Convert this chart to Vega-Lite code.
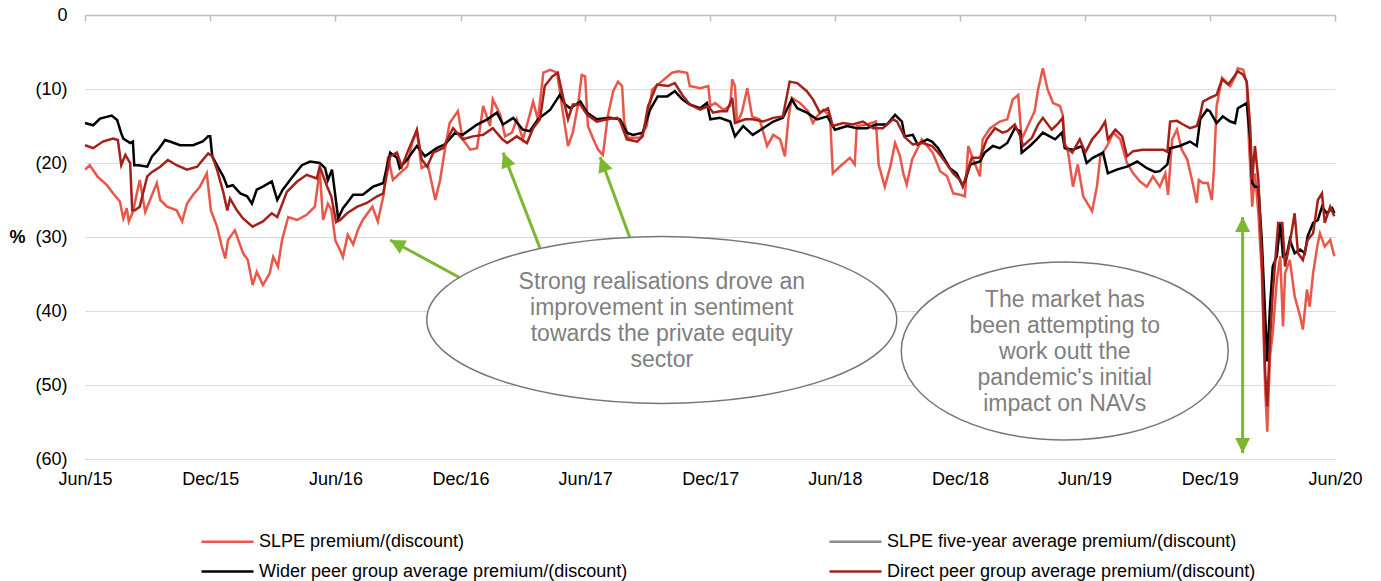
{
  "$schema": "https://vega.github.io/schema/vega-lite/v6.json",
  "width": 1250,
  "height": 444,
  "autosize": {"type": "none"},
  "padding": {"left": 85, "top": 15, "right": 46, "bottom": 122},
  "background": "white",
  "config": {"view": {"stroke": null}, "font": "Liberation Sans"},
  "datasets": {
    "slpe": [
      {"d":"2015-06-01","v":-20.9},{"d":"2015-06-08","v":-20.3},{"d":"2015-06-19","v":-21.8},{"d":"2015-07-03","v":-23.0},{"d":"2015-07-12","v":-24.1},{"d":"2015-07-22","v":-25.2},{"d":"2015-07-27","v":-27.5},{"d":"2015-08-01","v":-26.1},{"d":"2015-08-04","v":-27.9},{"d":"2015-08-10","v":-26.6},{"d":"2015-08-20","v":-22.3},{"d":"2015-08-28","v":-26.6},{"d":"2015-09-04","v":-25.0},{"d":"2015-09-14","v":-22.7},{"d":"2015-09-19","v":-25.0},{"d":"2015-09-29","v":-25.9},{"d":"2015-10-13","v":-26.4},{"d":"2015-10-21","v":-27.9},{"d":"2015-10-28","v":-25.5},{"d":"2015-11-06","v":-24.3},{"d":"2015-11-16","v":-23.2},{"d":"2015-11-26","v":-21.4},{"d":"2015-12-02","v":-26.4},{"d":"2015-12-11","v":-28.6},{"d":"2015-12-18","v":-31.3},{"d":"2015-12-23","v":-32.9},{"d":"2015-12-27","v":-30.4},{"d":"2016-01-06","v":-29.1},{"d":"2016-01-18","v":-32.2},{"d":"2016-01-25","v":-33.1},{"d":"2016-02-01","v":-36.5},{"d":"2016-02-07","v":-34.7},{"d":"2016-02-16","v":-36.5},{"d":"2016-02-26","v":-34.9},{"d":"2016-03-02","v":-32.7},{"d":"2016-03-09","v":-34.0},{"d":"2016-03-15","v":-30.4},{"d":"2016-03-24","v":-27.3},{"d":"2016-04-06","v":-27.7},{"d":"2016-04-20","v":-27.0},{"d":"2016-05-02","v":-25.9},{"d":"2016-05-09","v":-20.9},{"d":"2016-05-14","v":-27.7},{"d":"2016-05-21","v":-25.5},{"d":"2016-05-26","v":-26.3},{"d":"2016-06-01","v":-30.5},{"d":"2016-06-08","v":-31.8},{"d":"2016-06-12","v":-32.7},{"d":"2016-06-19","v":-29.7},{"d":"2016-06-27","v":-31.0},{"d":"2016-07-04","v":-29.0},{"d":"2016-07-11","v":-27.7},{"d":"2016-07-25","v":-25.9},{"d":"2016-08-02","v":-27.9},{"d":"2016-08-10","v":-24.5},{"d":"2016-08-17","v":-19.1},{"d":"2016-08-24","v":-22.3},{"d":"2016-09-03","v":-21.4},{"d":"2016-09-14","v":-20.5},{"d":"2016-09-21","v":-17.3},{"d":"2016-09-28","v":-15.7},{"d":"2016-10-05","v":-20.7},{"d":"2016-10-14","v":-20.2},{"d":"2016-10-25","v":-25.0},{"d":"2016-11-01","v":-22.3},{"d":"2016-11-08","v":-18.2},{"d":"2016-11-15","v":-14.6},{"d":"2016-11-27","v":-13.0},{"d":"2016-12-04","v":-16.8},{"d":"2016-12-15","v":-18.2},{"d":"2016-12-25","v":-18.0},{"d":"2017-01-03","v":-12.3},{"d":"2017-01-13","v":-15.0},{"d":"2017-01-17","v":-11.4},{"d":"2017-01-28","v":-13.5},{"d":"2017-02-04","v":-16.4},{"d":"2017-02-14","v":-15.9},{"d":"2017-02-21","v":-14.1},{"d":"2017-03-02","v":-16.8},{"d":"2017-03-12","v":-13.5},{"d":"2017-03-17","v":-11.7},{"d":"2017-03-24","v":-14.1},{"d":"2017-04-01","v":-7.8},{"d":"2017-04-11","v":-7.4},{"d":"2017-04-21","v":-7.8},{"d":"2017-04-30","v":-13.5},{"d":"2017-05-07","v":-17.7},{"d":"2017-05-14","v":-15.9},{"d":"2017-05-22","v":-11.9},{"d":"2017-05-27","v":-8.1},{"d":"2017-06-01","v":-8.3},{"d":"2017-06-05","v":-15.0},{"d":"2017-06-13","v":-16.8},{"d":"2017-06-20","v":-18.2},{"d":"2017-06-27","v":-18.9},{"d":"2017-07-04","v":-13.7},{"d":"2017-07-12","v":-10.3},{"d":"2017-07-19","v":-9.0},{"d":"2017-07-25","v":-9.6},{"d":"2017-07-28","v":-14.4},{"d":"2017-08-03","v":-16.6},{"d":"2017-08-20","v":-16.6},{"d":"2017-08-30","v":-15.0},{"d":"2017-09-07","v":-10.1},{"d":"2017-09-18","v":-9.2},{"d":"2017-10-06","v":-7.8},{"d":"2017-10-15","v":-7.6},{"d":"2017-10-28","v":-7.8},{"d":"2017-11-01","v":-9.6},{"d":"2017-11-16","v":-9.9},{"d":"2017-11-28","v":-9.6},{"d":"2017-12-01","v":-12.3},{"d":"2017-12-08","v":-11.9},{"d":"2017-12-20","v":-12.8},{"d":"2017-12-30","v":-12.3},{"d":"2018-01-02","v":-8.7},{"d":"2018-01-06","v":-9.6},{"d":"2018-01-09","v":-14.6},{"d":"2018-01-16","v":-13.2},{"d":"2018-01-24","v":-9.9},{"d":"2018-01-31","v":-13.7},{"d":"2018-02-11","v":-14.1},{"d":"2018-02-22","v":-17.7},{"d":"2018-03-03","v":-16.2},{"d":"2018-03-13","v":-16.8},{"d":"2018-03-20","v":-19.1},{"d":"2018-03-25","v":-14.1},{"d":"2018-03-30","v":-11.2},{"d":"2018-04-11","v":-11.9},{"d":"2018-04-23","v":-13.0},{"d":"2018-04-30","v":-14.6},{"d":"2018-05-06","v":-13.7},{"d":"2018-05-15","v":-12.8},{"d":"2018-05-25","v":-13.7},{"d":"2018-05-29","v":-21.4},{"d":"2018-06-08","v":-20.5},{"d":"2018-06-23","v":-19.3},{"d":"2018-06-30","v":-20.2},{"d":"2018-07-03","v":-15.0},{"d":"2018-07-18","v":-14.8},{"d":"2018-07-31","v":-14.4},{"d":"2018-08-04","v":-20.2},{"d":"2018-08-13","v":-23.2},{"d":"2018-08-21","v":-20.5},{"d":"2018-08-28","v":-17.3},{"d":"2018-09-04","v":-19.0},{"d":"2018-09-09","v":-21.4},{"d":"2018-09-14","v":-22.9},{"d":"2018-09-22","v":-19.5},{"d":"2018-09-29","v":-18.2},{"d":"2018-10-06","v":-16.8},{"d":"2018-10-14","v":-17.7},{"d":"2018-10-22","v":-18.6},{"d":"2018-11-02","v":-21.1},{"d":"2018-11-12","v":-21.8},{"d":"2018-11-21","v":-24.1},{"d":"2018-12-01","v":-24.3},{"d":"2018-12-08","v":-24.5},{"d":"2018-12-13","v":-17.7},{"d":"2018-12-20","v":-19.5},{"d":"2018-12-30","v":-21.8},{"d":"2019-01-03","v":-16.8},{"d":"2019-01-14","v":-15.3},{"d":"2019-01-28","v":-14.4},{"d":"2019-02-08","v":-14.1},{"d":"2019-02-16","v":-11.4},{"d":"2019-02-24","v":-10.8},{"d":"2019-03-01","v":-16.8},{"d":"2019-03-10","v":-15.0},{"d":"2019-03-20","v":-13.0},{"d":"2019-03-25","v":-10.1},{"d":"2019-04-01","v":-7.2},{"d":"2019-04-08","v":-10.1},{"d":"2019-04-16","v":-11.9},{"d":"2019-04-26","v":-12.3},{"d":"2019-04-30","v":-13.5},{"d":"2019-05-03","v":-17.3},{"d":"2019-05-08","v":-18.6},{"d":"2019-05-15","v":-23.2},{"d":"2019-05-22","v":-20.2},{"d":"2019-05-30","v":-24.5},{"d":"2019-06-12","v":-26.5},{"d":"2019-06-19","v":-23.2},{"d":"2019-06-24","v":-19.1},{"d":"2019-07-04","v":-17.7},{"d":"2019-07-13","v":-15.9},{"d":"2019-07-23","v":-16.8},{"d":"2019-08-02","v":-20.0},{"d":"2019-08-11","v":-21.4},{"d":"2019-08-21","v":-22.5},{"d":"2019-08-31","v":-23.2},{"d":"2019-09-09","v":-21.8},{"d":"2019-09-19","v":-23.2},{"d":"2019-09-27","v":-21.4},{"d":"2019-10-01","v":-24.3},{"d":"2019-10-07","v":-16.8},{"d":"2019-10-14","v":-15.5},{"d":"2019-10-21","v":-18.2},{"d":"2019-10-29","v":-19.5},{"d":"2019-11-05","v":-22.3},{"d":"2019-11-12","v":-25.4},{"d":"2019-11-15","v":-22.3},{"d":"2019-11-21","v":-22.7},{"d":"2019-11-28","v":-22.7},{"d":"2019-12-04","v":-25.0},{"d":"2019-12-07","v":-20.9},{"d":"2019-12-11","v":-12.3},{"d":"2019-12-19","v":-8.5},{"d":"2019-12-31","v":-9.6},{"d":"2020-01-07","v":-8.3},{"d":"2020-01-11","v":-7.2},{"d":"2020-01-19","v":-7.4},{"d":"2020-01-24","v":-9.2},{"d":"2020-01-27","v":-16.8},{"d":"2020-02-01","v":-25.9},{"d":"2020-02-05","v":-21.4},{"d":"2020-02-10","v":-26.8},{"d":"2020-02-15","v":-34.9},{"d":"2020-02-20","v":-50.7},{"d":"2020-02-23","v":-56.3},{"d":"2020-02-27","v":-46.1},{"d":"2020-03-02","v":-43.0},{"d":"2020-03-08","v":-35.8},{"d":"2020-03-13","v":-32.6},{"d":"2020-03-17","v":-42.1},{"d":"2020-03-20","v":-34.9},{"d":"2020-03-27","v":-33.1},{"d":"2020-04-03","v":-38.0},{"d":"2020-04-11","v":-40.7},{"d":"2020-04-15","v":-42.5},{"d":"2020-04-21","v":-37.1},{"d":"2020-04-25","v":-39.4},{"d":"2020-04-30","v":-34.9},{"d":"2020-05-06","v":-31.3},{"d":"2020-05-10","v":-29.5},{"d":"2020-05-17","v":-31.3},{"d":"2020-05-25","v":-30.4},{"d":"2020-05-31","v":-32.6}
    ],
    "wider": [
      {"d":"2015-06-01","v":-14.6},{"d":"2015-06-13","v":-14.9},{"d":"2015-06-23","v":-14.0},{"d":"2015-07-10","v":-13.6},{"d":"2015-07-18","v":-14.2},{"d":"2015-07-24","v":-16.0},{"d":"2015-07-27","v":-16.7},{"d":"2015-08-06","v":-17.3},{"d":"2015-08-10","v":-17.1},{"d":"2015-08-12","v":-20.3},{"d":"2015-08-18","v":-20.3},{"d":"2015-08-31","v":-20.5},{"d":"2015-09-07","v":-19.1},{"d":"2015-09-16","v":-18.2},{"d":"2015-09-26","v":-16.9},{"d":"2015-10-03","v":-17.1},{"d":"2015-10-18","v":-17.6},{"d":"2015-11-06","v":-17.6},{"d":"2015-11-20","v":-17.1},{"d":"2015-11-28","v":-16.4},{"d":"2015-12-01","v":-16.4},{"d":"2015-12-04","v":-19.1},{"d":"2015-12-11","v":-20.3},{"d":"2015-12-20","v":-21.8},{"d":"2015-12-26","v":-23.2},{"d":"2016-01-03","v":-23.0},{"d":"2016-01-14","v":-24.1},{"d":"2016-01-24","v":-24.5},{"d":"2016-01-31","v":-25.5},{"d":"2016-02-07","v":-23.6},{"d":"2016-02-16","v":-23.2},{"d":"2016-02-29","v":-22.5},{"d":"2016-03-08","v":-25.0},{"d":"2016-03-16","v":-23.6},{"d":"2016-03-31","v":-21.8},{"d":"2016-04-13","v":-20.3},{"d":"2016-04-25","v":-19.8},{"d":"2016-05-09","v":-20.0},{"d":"2016-05-17","v":-20.7},{"d":"2016-05-21","v":-22.3},{"d":"2016-05-27","v":-20.9},{"d":"2016-06-01","v":-24.5},{"d":"2016-06-05","v":-27.5},{"d":"2016-06-12","v":-26.1},{"d":"2016-06-18","v":-25.4},{"d":"2016-06-27","v":-24.3},{"d":"2016-07-11","v":-24.3},{"d":"2016-07-26","v":-23.2},{"d":"2016-08-01","v":-23.0},{"d":"2016-08-10","v":-22.7},{"d":"2016-08-20","v":-18.6},{"d":"2016-08-30","v":-19.3},{"d":"2016-09-03","v":-20.7},{"d":"2016-09-14","v":-19.5},{"d":"2016-09-28","v":-17.7},{"d":"2016-10-10","v":-19.1},{"d":"2016-10-27","v":-18.0},{"d":"2016-11-08","v":-17.5},{"d":"2016-11-23","v":-15.9},{"d":"2016-12-04","v":-16.2},{"d":"2016-12-25","v":-14.8},{"d":"2017-01-09","v":-14.1},{"d":"2017-01-23","v":-13.2},{"d":"2017-02-01","v":-14.8},{"d":"2017-02-16","v":-13.9},{"d":"2017-03-02","v":-15.5},{"d":"2017-03-12","v":-15.7},{"d":"2017-03-24","v":-14.1},{"d":"2017-04-11","v":-12.8},{"d":"2017-04-25","v":-10.8},{"d":"2017-05-03","v":-12.1},{"d":"2017-05-10","v":-12.6},{"d":"2017-05-25","v":-11.7},{"d":"2017-06-04","v":-13.2},{"d":"2017-06-18","v":-14.1},{"d":"2017-07-07","v":-13.9},{"d":"2017-07-22","v":-14.1},{"d":"2017-08-01","v":-15.9},{"d":"2017-08-10","v":-16.2},{"d":"2017-08-24","v":-15.9},{"d":"2017-09-04","v":-12.8},{"d":"2017-09-15","v":-11.0},{"d":"2017-09-29","v":-11.0},{"d":"2017-10-10","v":-10.3},{"d":"2017-10-21","v":-11.4},{"d":"2017-11-01","v":-12.1},{"d":"2017-11-16","v":-12.6},{"d":"2017-11-26","v":-11.9},{"d":"2017-12-01","v":-14.1},{"d":"2017-12-15","v":-13.9},{"d":"2017-12-30","v":-14.4},{"d":"2018-01-06","v":-16.4},{"d":"2018-01-18","v":-15.0},{"d":"2018-02-01","v":-16.2},{"d":"2018-02-16","v":-15.3},{"d":"2018-03-03","v":-14.4},{"d":"2018-03-17","v":-13.9},{"d":"2018-03-30","v":-11.4},{"d":"2018-04-07","v":-12.6},{"d":"2018-04-21","v":-13.2},{"d":"2018-05-06","v":-14.1},{"d":"2018-05-21","v":-13.7},{"d":"2018-06-01","v":-15.5},{"d":"2018-06-19","v":-15.0},{"d":"2018-07-03","v":-15.3},{"d":"2018-07-18","v":-15.3},{"d":"2018-07-31","v":-14.8},{"d":"2018-08-16","v":-14.8},{"d":"2018-08-28","v":-13.5},{"d":"2018-09-07","v":-14.4},{"d":"2018-09-11","v":-16.4},{"d":"2018-09-23","v":-16.2},{"d":"2018-09-30","v":-17.5},{"d":"2018-10-14","v":-16.8},{"d":"2018-10-21","v":-17.1},{"d":"2018-10-30","v":-18.0},{"d":"2018-11-06","v":-19.1},{"d":"2018-11-16","v":-20.7},{"d":"2018-11-26","v":-21.4},{"d":"2018-12-04","v":-22.9},{"d":"2018-12-08","v":-22.5},{"d":"2018-12-16","v":-20.2},{"d":"2018-12-30","v":-19.8},{"d":"2019-01-06","v":-18.6},{"d":"2019-01-18","v":-17.7},{"d":"2019-01-28","v":-18.0},{"d":"2019-02-08","v":-17.3},{"d":"2019-02-19","v":-15.3},{"d":"2019-02-27","v":-15.7},{"d":"2019-03-01","v":-18.6},{"d":"2019-03-13","v":-17.7},{"d":"2019-03-23","v":-16.8},{"d":"2019-04-01","v":-15.9},{"d":"2019-04-11","v":-16.4},{"d":"2019-04-19","v":-16.8},{"d":"2019-04-29","v":-15.9},{"d":"2019-05-03","v":-18.0},{"d":"2019-05-15","v":-18.2},{"d":"2019-05-28","v":-17.7},{"d":"2019-06-04","v":-20.0},{"d":"2019-06-13","v":-19.3},{"d":"2019-06-28","v":-18.6},{"d":"2019-07-05","v":-21.4},{"d":"2019-07-18","v":-20.9},{"d":"2019-08-02","v":-20.5},{"d":"2019-08-17","v":-19.8},{"d":"2019-08-31","v":-20.7},{"d":"2019-09-12","v":-21.2},{"d":"2019-09-19","v":-21.1},{"d":"2019-09-30","v":-20.2},{"d":"2019-10-04","v":-18.0},{"d":"2019-10-18","v":-17.7},{"d":"2019-11-02","v":-17.1},{"d":"2019-11-12","v":-17.7},{"d":"2019-11-17","v":-14.1},{"d":"2019-11-27","v":-12.8},{"d":"2019-12-01","v":-13.0},{"d":"2019-12-11","v":-14.6},{"d":"2019-12-20","v":-13.7},{"d":"2019-12-31","v":-14.4},{"d":"2020-01-07","v":-14.6},{"d":"2020-01-11","v":-12.6},{"d":"2020-01-24","v":-11.9},{"d":"2020-01-29","v":-16.8},{"d":"2020-02-01","v":-22.7},{"d":"2020-02-05","v":-23.2},{"d":"2020-02-10","v":-23.2},{"d":"2020-02-15","v":-30.4},{"d":"2020-02-20","v":-40.7},{"d":"2020-02-23","v":-46.8},{"d":"2020-02-27","v":-39.4},{"d":"2020-03-02","v":-34.0},{"d":"2020-03-08","v":-32.6},{"d":"2020-03-13","v":-28.1},{"d":"2020-03-17","v":-32.6},{"d":"2020-03-23","v":-32.2},{"d":"2020-03-27","v":-30.4},{"d":"2020-04-03","v":-32.2},{"d":"2020-04-11","v":-31.7},{"d":"2020-04-18","v":-32.2},{"d":"2020-04-22","v":-29.9},{"d":"2020-04-30","v":-28.1},{"d":"2020-05-07","v":-27.7},{"d":"2020-05-13","v":-25.9},{"d":"2020-05-20","v":-26.8},{"d":"2020-05-28","v":-26.1},{"d":"2020-05-31","v":-26.8}
    ],
    "direct": [
      {"d":"2015-06-01","v":-17.6},{"d":"2015-06-13","v":-18.0},{"d":"2015-06-27","v":-17.1},{"d":"2015-07-12","v":-16.7},{"d":"2015-07-19","v":-16.9},{"d":"2015-07-24","v":-20.3},{"d":"2015-07-30","v":-18.9},{"d":"2015-08-06","v":-20.0},{"d":"2015-08-09","v":-26.4},{"d":"2015-08-13","v":-26.4},{"d":"2015-08-20","v":-25.9},{"d":"2015-08-31","v":-21.8},{"d":"2015-09-07","v":-21.2},{"d":"2015-09-19","v":-20.5},{"d":"2015-09-30","v":-19.6},{"d":"2015-10-13","v":-20.3},{"d":"2015-10-28","v":-20.9},{"d":"2015-11-12","v":-20.5},{"d":"2015-11-20","v":-19.6},{"d":"2015-11-28","v":-18.7},{"d":"2015-12-04","v":-19.1},{"d":"2015-12-11","v":-20.9},{"d":"2015-12-20","v":-23.9},{"d":"2015-12-26","v":-26.4},{"d":"2015-12-30","v":-24.8},{"d":"2016-01-09","v":-26.4},{"d":"2016-01-18","v":-27.5},{"d":"2016-02-01","v":-28.6},{"d":"2016-02-16","v":-27.9},{"d":"2016-02-29","v":-26.8},{"d":"2016-03-08","v":-27.3},{"d":"2016-03-22","v":-23.9},{"d":"2016-04-06","v":-22.5},{"d":"2016-04-20","v":-21.6},{"d":"2016-05-05","v":-22.1},{"d":"2016-05-09","v":-20.5},{"d":"2016-05-12","v":-21.2},{"d":"2016-05-20","v":-23.2},{"d":"2016-05-26","v":-24.5},{"d":"2016-06-02","v":-28.0},{"d":"2016-06-08","v":-27.7},{"d":"2016-06-18","v":-26.8},{"d":"2016-07-03","v":-25.9},{"d":"2016-07-17","v":-25.4},{"d":"2016-08-01","v":-24.5},{"d":"2016-08-10","v":-24.1},{"d":"2016-08-20","v":-19.1},{"d":"2016-08-30","v":-18.6},{"d":"2016-09-06","v":-20.5},{"d":"2016-09-15","v":-18.4},{"d":"2016-09-25","v":-16.2},{"d":"2016-09-28","v":-15.5},{"d":"2016-10-05","v":-19.5},{"d":"2016-10-13","v":-20.5},{"d":"2016-10-22","v":-18.6},{"d":"2016-11-05","v":-18.0},{"d":"2016-11-20","v":-15.3},{"d":"2016-12-04","v":-16.8},{"d":"2016-12-19","v":-16.4},{"d":"2017-01-03","v":-16.2},{"d":"2017-01-17","v":-15.3},{"d":"2017-01-31","v":-16.8},{"d":"2017-02-07","v":-17.3},{"d":"2017-02-21","v":-16.4},{"d":"2017-03-08","v":-17.3},{"d":"2017-03-17","v":-15.3},{"d":"2017-03-27","v":-14.1},{"d":"2017-04-03","v":-9.6},{"d":"2017-04-14","v":-8.3},{"d":"2017-04-22","v":-7.8},{"d":"2017-04-30","v":-11.2},{"d":"2017-05-07","v":-14.1},{"d":"2017-05-14","v":-12.1},{"d":"2017-05-25","v":-12.1},{"d":"2017-06-04","v":-13.5},{"d":"2017-06-18","v":-14.4},{"d":"2017-07-03","v":-14.1},{"d":"2017-07-18","v":-13.9},{"d":"2017-07-22","v":-14.4},{"d":"2017-08-01","v":-16.8},{"d":"2017-08-16","v":-17.1},{"d":"2017-08-24","v":-16.4},{"d":"2017-09-01","v":-12.3},{"d":"2017-09-14","v":-9.4},{"d":"2017-09-30","v":-9.6},{"d":"2017-10-10","v":-9.2},{"d":"2017-10-21","v":-10.8},{"d":"2017-11-01","v":-12.1},{"d":"2017-11-16","v":-12.8},{"d":"2017-11-28","v":-12.3},{"d":"2017-12-05","v":-13.2},{"d":"2017-12-15","v":-13.0},{"d":"2017-12-25","v":-13.0},{"d":"2018-01-02","v":-11.2},{"d":"2018-01-06","v":-14.6},{"d":"2018-01-21","v":-14.1},{"d":"2018-02-01","v":-14.1},{"d":"2018-02-16","v":-14.4},{"d":"2018-03-03","v":-13.9},{"d":"2018-03-17","v":-13.7},{"d":"2018-03-27","v":-9.0},{"d":"2018-04-07","v":-9.2},{"d":"2018-04-21","v":-10.3},{"d":"2018-04-30","v":-11.4},{"d":"2018-05-10","v":-13.2},{"d":"2018-05-22","v":-12.6},{"d":"2018-05-29","v":-15.0},{"d":"2018-06-13","v":-14.6},{"d":"2018-06-27","v":-14.8},{"d":"2018-07-12","v":-14.4},{"d":"2018-07-27","v":-15.3},{"d":"2018-08-10","v":-15.3},{"d":"2018-08-25","v":-14.1},{"d":"2018-08-31","v":-14.4},{"d":"2018-09-11","v":-16.5},{"d":"2018-09-23","v":-17.5},{"d":"2018-10-08","v":-17.3},{"d":"2018-10-21","v":-17.7},{"d":"2018-10-30","v":-18.6},{"d":"2018-11-09","v":-19.8},{"d":"2018-11-21","v":-21.4},{"d":"2018-12-01","v":-22.3},{"d":"2018-12-05","v":-23.2},{"d":"2018-12-11","v":-21.4},{"d":"2018-12-18","v":-19.3},{"d":"2018-12-30","v":-19.3},{"d":"2019-01-09","v":-16.8},{"d":"2019-01-21","v":-15.3},{"d":"2019-02-01","v":-15.9},{"d":"2019-02-08","v":-15.7},{"d":"2019-02-19","v":-14.8},{"d":"2019-02-27","v":-16.4},{"d":"2019-03-03","v":-17.7},{"d":"2019-03-16","v":-16.6},{"d":"2019-03-25","v":-14.8},{"d":"2019-04-01","v":-13.9},{"d":"2019-04-14","v":-15.5},{"d":"2019-04-22","v":-14.8},{"d":"2019-04-30","v":-13.9},{"d":"2019-05-03","v":-17.7},{"d":"2019-05-14","v":-18.6},{"d":"2019-05-25","v":-16.8},{"d":"2019-06-02","v":-18.6},{"d":"2019-06-12","v":-16.8},{"d":"2019-06-24","v":-15.5},{"d":"2019-07-01","v":-14.4},{"d":"2019-07-05","v":-16.8},{"d":"2019-07-16","v":-15.5},{"d":"2019-07-26","v":-16.4},{"d":"2019-08-02","v":-19.1},{"d":"2019-08-11","v":-18.4},{"d":"2019-08-25","v":-18.2},{"d":"2019-09-09","v":-18.2},{"d":"2019-09-24","v":-18.2},{"d":"2019-09-30","v":-18.5},{"d":"2019-10-04","v":-14.4},{"d":"2019-10-14","v":-14.3},{"d":"2019-10-23","v":-14.8},{"d":"2019-11-02","v":-15.3},{"d":"2019-11-12","v":-15.0},{"d":"2019-11-17","v":-13.5},{"d":"2019-11-21","v":-11.7},{"d":"2019-12-01","v":-11.2},{"d":"2019-12-11","v":-10.8},{"d":"2019-12-19","v":-8.7},{"d":"2019-12-28","v":-9.4},{"d":"2020-01-04","v":-8.5},{"d":"2020-01-11","v":-7.6},{"d":"2020-01-19","v":-8.1},{"d":"2020-01-24","v":-9.0},{"d":"2020-01-29","v":-15.0},{"d":"2020-02-01","v":-22.3},{"d":"2020-02-05","v":-17.7},{"d":"2020-02-10","v":-22.3},{"d":"2020-02-15","v":-32.6},{"d":"2020-02-20","v":-48.4},{"d":"2020-02-23","v":-52.9},{"d":"2020-02-27","v":-43.9},{"d":"2020-03-02","v":-37.6},{"d":"2020-03-10","v":-28.1},{"d":"2020-03-16","v":-28.1},{"d":"2020-03-20","v":-34.0},{"d":"2020-03-27","v":-30.8},{"d":"2020-04-03","v":-26.8},{"d":"2020-04-08","v":-32.2},{"d":"2020-04-15","v":-33.1},{"d":"2020-04-22","v":-30.4},{"d":"2020-04-30","v":-29.5},{"d":"2020-05-07","v":-25.0},{"d":"2020-05-13","v":-24.1},{"d":"2020-05-17","v":-28.1},{"d":"2020-05-25","v":-25.9},{"d":"2020-05-31","v":-27.2}
    ],
    "arrows": [
      {"d":"2016-11-30","v":-35.5,"d2":"2016-08-20","v2":-30.4},
      {"d":"2017-03-27","v":-31.5,"d2":"2017-02-01","v2":-18.6},
      {"d":"2017-08-05","v":-30.0,"d2":"2017-06-23","v2":-19.2},
      {"d":"2020-01-18","v":-27.3,"d2":"2020-01-18","v2":-59.2}
    ]
  },
  "resolve": {"axis": {"x": "independent"}},
  "layer": [
    {
      "mark": {"type": "rule", "strokeWidth": 3.5},
      "encoding": {
        "y": {"datum": -20.1, "type": "quantitative"},
        "color": {"datum": "SLPE five-year average premium/(discount)"}
      }
    },
    {
      "data": {"name": "slpe"},
      "mark": {"type": "line", "strokeWidth": 2.5},
      "encoding": {
        "x": {
          "field": "d", "type": "temporal",
          "scale": {"domain": [{"year": 2015, "month": "jun", "date": 1}, {"year": 2020, "month": "jun", "date": 1}]},
          "axis": {
            "orient": "bottom", "title": null, "format": "%b/%y",
            "values": [
              {"year": 2015, "month": "jun", "date": 1}, {"year": 2015, "month": "dec", "date": 1},
              {"year": 2016, "month": "jun", "date": 1}, {"year": 2016, "month": "dec", "date": 1},
              {"year": 2017, "month": "jun", "date": 1}, {"year": 2017, "month": "dec", "date": 1},
              {"year": 2018, "month": "jun", "date": 1}, {"year": 2018, "month": "dec", "date": 1},
              {"year": 2019, "month": "jun", "date": 1}, {"year": 2019, "month": "dec", "date": 1},
              {"year": 2020, "month": "jun", "date": 1}
            ],
            "labelFontSize": 18, "labelColor": "#000000", "labelPadding": 11,
            "labelFlush": false, "labelOverlap": false,
            "domain": false, "ticks": false, "grid": false
          }
        },
        "y": {
          "field": "v", "type": "quantitative",
          "scale": {"domain": [-60, 0], "nice": false},
          "axis": {
            "title": "%", "titleAngle": 0, "titleFontSize": 18, "titleFontWeight": "bold", "titleColor": "#000000",
            "titleX": -68, "titleY": 222, "titleAlign": "center", "titleBaseline": "middle",
            "values": [0, -10, -20, -30, -40, -50, -60],
            "labelExpr": "datum.value == 0 ? '0\u00a0' : '(' + abs(datum.value) + ')'",
            "labelFontSize": 18, "labelColor": "#000000", "labelPadding": 18,
            "domain": false, "ticks": false, "grid": true, "gridColor": "#D9D9D9", "gridWidth": 1.2
          }
        },
        "color": {
          "datum": "SLPE premium/(discount)",
          "scale": {
            "domain": ["SLPE premium/(discount)", "Wider peer group average premium/(discount)", "SLPE five-year average premium/(discount)", "Direct peer group average premium/(discount)"],
            "range": ["#E8574A", "#000000", "#8C8C8C", "#A3211A"]
          },
          "legend": {
            "orient": "none", "legendX": 133, "legendY": 517, "columns": 2, "columnPadding": 196, "rowPadding": 11,
            "title": null, "padding": 0, "symbolType": "M -3.25 0 L 3.25 0", "symbolSize": 256, "symbolStrokeWidth": 2.5,
            "labelFontSize": 18, "labelColor": "#000000", "labelOffset": 22, "labelLimit": 0
          }
        }
      }
    },
    {
      "data": {"name": "wider"},
      "mark": {"type": "line", "strokeWidth": 2.5},
      "encoding": {
        "x": {
          "field": "d", "type": "temporal",
          "axis": {
            "orient": "top", "title": null, "labels": false, "grid": false,
            "values": [
              {"year": 2015, "month": "jun", "date": 1}, {"year": 2015, "month": "dec", "date": 1},
              {"year": 2016, "month": "jun", "date": 1}, {"year": 2016, "month": "dec", "date": 1},
              {"year": 2017, "month": "jun", "date": 1}, {"year": 2017, "month": "dec", "date": 1},
              {"year": 2018, "month": "jun", "date": 1}, {"year": 2018, "month": "dec", "date": 1},
              {"year": 2019, "month": "jun", "date": 1}, {"year": 2019, "month": "dec", "date": 1},
              {"year": 2020, "month": "jun", "date": 1}
            ],
            "domain": true, "domainColor": "#BFBFBF", "domainWidth": 1.5,
            "ticks": true, "tickColor": "#BFBFBF", "tickWidth": 1.5, "tickSize": -6
          }
        },
        "y": {"field": "v", "type": "quantitative"},
        "color": {"datum": "Wider peer group average premium/(discount)"}
      }
    },
    {
      "data": {"name": "direct"},
      "mark": {"type": "line", "strokeWidth": 2.5},
      "encoding": {
        "x": {"field": "d", "type": "temporal", "axis": null},
        "y": {"field": "v", "type": "quantitative"},
        "color": {"datum": "Direct peer group average premium/(discount)"}
      }
    },
    {
      "data": {"name": "arrows"},
      "mark": {"type": "rule", "color": "#7DB72F", "strokeWidth": 3},
      "encoding": {
        "x": {"field": "d", "type": "temporal", "axis": null},
        "x2": {"field": "d2"},
        "y": {"field": "v", "type": "quantitative"},
        "y2": {"field": "v2"}
      }
    },
    {
      "data": {"values": [{"d": "2016-08-20", "v": -30.4}]},
      "mark": {"type": "point", "shape": "M 0 0 L -0.5 1 L 0.5 1 Z", "size": 900, "filled": true, "color": "#7DB72F", "opacity": 1, "angle": 298.5},
      "encoding": {"x": {"field": "d", "type": "temporal", "axis": null}, "y": {"field": "v", "type": "quantitative"}}
    },
    {
      "data": {"values": [{"d": "2017-02-01", "v": -18.6}]},
      "mark": {"type": "point", "shape": "M 0 0 L -0.5 1 L 0.5 1 Z", "size": 900, "filled": true, "color": "#7DB72F", "opacity": 1, "angle": 338.7},
      "encoding": {"x": {"field": "d", "type": "temporal", "axis": null}, "y": {"field": "v", "type": "quantitative"}}
    },
    {
      "data": {"values": [{"d": "2017-06-23", "v": -19.2}]},
      "mark": {"type": "point", "shape": "M 0 0 L -0.5 1 L 0.5 1 Z", "size": 900, "filled": true, "color": "#7DB72F", "opacity": 1, "angle": 339.4},
      "encoding": {"x": {"field": "d", "type": "temporal", "axis": null}, "y": {"field": "v", "type": "quantitative"}}
    },
    {
      "data": {"values": [{"d": "2020-01-18", "v": -27.3}]},
      "mark": {"type": "point", "shape": "M 0 0 L -0.5 1 L 0.5 1 Z", "size": 900, "filled": true, "color": "#7DB72F", "opacity": 1, "angle": 0},
      "encoding": {"x": {"field": "d", "type": "temporal", "axis": null}, "y": {"field": "v", "type": "quantitative"}}
    },
    {
      "data": {"values": [{"d": "2020-01-18", "v": -59.2}]},
      "mark": {"type": "point", "shape": "M 0 0 L -0.5 1 L 0.5 1 Z", "size": 900, "filled": true, "color": "#7DB72F", "opacity": 1, "angle": 180},
      "encoding": {"x": {"field": "d", "type": "temporal", "axis": null}, "y": {"field": "v", "type": "quantitative"}}
    },
    {
      "data": {"values": [{"d": "2017-09-21", "v": -41.2}]},
      "mark": {"type": "point", "shape": "M 1 0 C 1 0.1962 0.5523 0.3553 0 0.3553 C -0.5523 0.3553 -1 0.1962 -1 0 C -1 -0.1962 -0.5523 -0.3553 0 -0.3553 C 0.5523 -0.3553 1 -0.1962 1 0 Z", "size": 220900, "filled": true, "fill": "#FFFFFF", "stroke": "#767676", "strokeWidth": 1.5, "opacity": 1},
      "encoding": {"x": {"field": "d", "type": "temporal", "axis": null}, "y": {"field": "v", "type": "quantitative"}}
    },
    {
      "data": {"values": [{"d": "2019-05-03", "v": -45.4}]},
      "mark": {"type": "point", "shape": "M 1 0 C 1 0.3006 0.5523 0.5443 0 0.5443 C -0.5523 0.5443 -1 0.3006 -1 0 C -1 -0.3006 -0.5523 -0.5443 0 -0.5443 C 0.5523 -0.5443 1 -0.3006 1 0 Z", "size": 106929, "filled": true, "fill": "#FFFFFF", "stroke": "#767676", "strokeWidth": 1.5, "opacity": 1},
      "encoding": {"x": {"field": "d", "type": "temporal", "axis": null}, "y": {"field": "v", "type": "quantitative"}}
    },
    {
      "data": {"values": [{"d": "2017-09-21", "v": -41.4}]},
      "mark": {"type": "text", "text": ["Strong realisations drove an", "improvement in sentiment", "towards the private equity", "sector"], "fontSize": 23, "lineHeight": 26, "dy": -39, "color": "#7F7F7F", "align": "center", "baseline": "middle"},
      "encoding": {"x": {"field": "d", "type": "temporal", "axis": null}, "y": {"field": "v", "type": "quantitative"}}
    },
    {
      "data": {"values": [{"d": "2019-05-03", "v": -45.5}]},
      "mark": {"type": "text", "text": ["The market has", "been attempting to", "work outt the", "pandemic's initial", "impact on NAVs"], "fontSize": 23, "lineHeight": 26, "dy": -52, "color": "#7F7F7F", "align": "center", "baseline": "middle"},
      "encoding": {"x": {"field": "d", "type": "temporal", "axis": null}, "y": {"field": "v", "type": "quantitative"}}
    }
  ]
}
